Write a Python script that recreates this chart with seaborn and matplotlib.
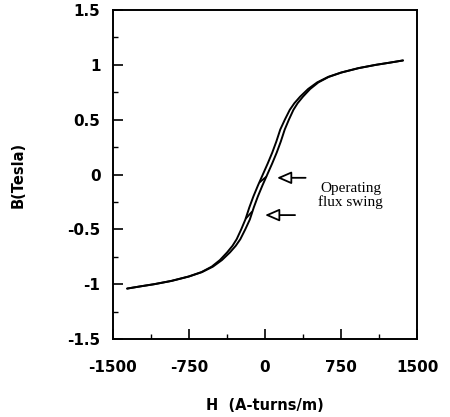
import matplotlib
matplotlib.use("Agg")
import matplotlib.pyplot as plt
import seaborn as sns
import pandas as pd
from matplotlib.ticker import MultipleLocator

# Descending branch (left line of the loop)
B_down = [1.04, 1.02, 1.00, 0.97, 0.93, 0.89, 0.84, 0.78, 0.71, 0.65, 0.59, 0.50, 0.41,
          0.30, 0.20, 0.10, 0.00, -0.10, -0.20, -0.30, -0.41, -0.50, -0.59, -0.65, -0.71,
          -0.78, -0.84, -0.89, -0.93, -0.97, -1.00, -1.02, -1.04]
H_down = [1360, 1230, 1090, 920, 750, 622, 514, 425, 346, 289, 244, 195, 150,
          111, 71, 26, -22, -70, -115, -155, -194, -235, -280, -321, -374,
          -445, -526, -628, -754, -925, -1095, -1230, -1360]

# Ascending branch (right line of the loop)
B_up = [-1.04, -1.02, -1.00, -0.97, -0.93, -0.89, -0.84, -0.78, -0.71, -0.65, -0.59, -0.50, -0.41,
        -0.30, -0.20, -0.10, 0.00, 0.10, 0.20, 0.30, 0.41, 0.50, 0.59, 0.65, 0.71,
        0.78, 0.84, 0.89, 0.93, 0.97, 1.00, 1.02, 1.04]
H_up = [-1360, -1230, -1090, -920, -750, -622, -514, -425, -346, -289, -244, -195, -150,
        -111, -71, -26, 22, 70, 115, 155, 194, 235, 280, 321, 374,
        445, 526, 628, 754, 925, 1095, 1230, 1360]

# Minor (operating) loops
swing1_H = [-52, 12]
swing1_B = [-0.07, -0.02]
swing2_H = [-188, -130]
swing2_B = [-0.40, -0.34]

x_ticks = [-1500, -750, 0, 750, 1500]
x_ticklabels = ["-1500", "-750", "0", "750", "1500"]
y_ticks = [-1.5, -1, -0.5, 0, 0.5, 1, 1.5]
y_ticklabels = ["-1.5", "-1", "-0.5", "0", "0.5", "1", "1.5"]

sns.set_style("white")
plt.rcParams['font.family'] = ['DejaVu Sans']
plt.rcParams['text.color'] = 'black'
plt.rcParams['axes.labelcolor'] = 'black'

fig = plt.figure(figsize=(4.5, 4.17), dpi=100)
ax = fig.add_axes([0.251, 0.187, 0.676, 0.789])

df_down = pd.DataFrame({"H": H_down, "B": B_down})
df_up = pd.DataFrame({"H": H_up, "B": B_up})
sns.lineplot(data=df_down, x="H", y="B", sort=False, color="black", lw=1.4, ax=ax)
sns.lineplot(data=df_up, x="H", y="B", sort=False, color="black", lw=1.4, ax=ax)
sns.lineplot(x=swing1_H, y=swing1_B, sort=False, color="black", lw=1.3, ax=ax)
sns.lineplot(x=swing2_H, y=swing2_B, sort=False, color="black", lw=1.3, ax=ax)

ax.set_xlim(-1500, 1500)
ax.set_ylim(-1.5, 1.5)
ax.set_xticks(x_ticks)
ax.set_xticklabels(x_ticklabels)
ax.set_yticks(y_ticks)
ax.set_yticklabels(y_ticklabels)
ax.xaxis.set_minor_locator(MultipleLocator(375))
ax.yaxis.set_minor_locator(MultipleLocator(0.25))
ax.tick_params(axis="both", which="major", direction="in", length=7, width=1.2,
               bottom=True, left=True, top=False, right=False,
               labelsize=11, colors="black")
ax.tick_params(axis="both", which="minor", direction="in", length=3.5, width=1.0,
               bottom=True, left=True, top=False, right=False, colors="black")
ax.tick_params(axis="x", which="major", pad=15)
ax.tick_params(axis="y", which="major", pad=9)
for lab in ax.get_xticklabels() + ax.get_yticklabels():
    lab.set_fontweight("bold")
for sp in ax.spines.values():
    sp.set_color("black")
    sp.set_linewidth(1.4)

ax.set_xlabel("H  (A-turns/m)", fontsize=10.5, fontweight="bold", labelpad=17)
ax.set_ylabel("B(Tesla)", fontsize=10.5, fontweight="bold", labelpad=30)

arrow_kw = dict(arrowstyle="-|>,head_length=0.62,head_width=0.27", fc="white", ec="black",
                lw=1.3, mutation_scale=14, shrinkA=0, shrinkB=0)
ax.annotate("", xy=(118, -0.03), xytext=(400, -0.03), arrowprops=arrow_kw)
ax.annotate("", xy=(0, -0.37), xytext=(296, -0.37), arrowprops=arrow_kw)

ax.text(845, -0.19, "Operating\nflux swing", ha="center", va="center",
        fontsize=11, family=["Liberation Serif", "DejaVu Serif"], linespacing=1.05)

fig.savefig("out.png", dpi=100)
